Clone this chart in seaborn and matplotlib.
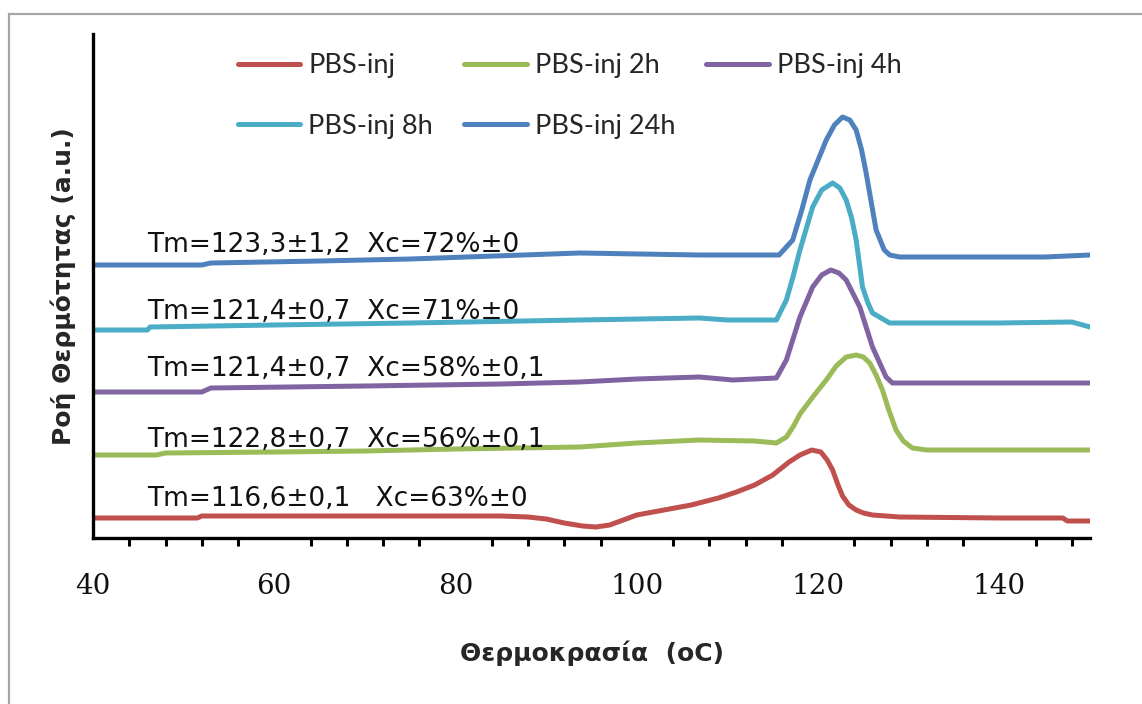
import numpy as np
import pandas as pd
import matplotlib
matplotlib.use("Agg")
import matplotlib.pyplot as plt
from matplotlib.patches import Rectangle
from matplotlib.ticker import MultipleLocator
import seaborn as sns

# ---------------- data ----------------
series_names = ["PBS-inj", "PBS-inj 2h", "PBS-inj 4h", "PBS-inj 8h", "PBS-inj 24h"]
series_colors = ["#C0504D", "#9BBB59", "#8064A2", "#4BACC6", "#4F81BD"]

t_inj = [40, 51.5, 52, 70, 85, 88, 90, 92, 94, 95.5, 97, 98.5, 100, 103, 106, 109, 111, 113,
         115, 116.8, 118, 119.3, 120.3, 121, 121.6, 122.2, 122.7, 123.4, 124.2, 125, 126,
         127.5, 129, 140, 147, 147.5, 150]
y_inj = [20, 20, 22, 22, 22, 21, 19, 15, 12, 11, 13, 18, 23, 28, 33, 40, 46, 53,
         63, 76, 83, 88, 86, 78, 68, 53, 42, 33, 28, 25, 23,
         22, 21, 20, 20, 17, 17]

t_2h = [40, 47, 48, 60, 70, 80, 93.7, 100, 106.9, 113, 115.4, 116.5, 117.3, 118, 119.5, 120.9,
        122, 123.1, 124.2, 125, 125.7, 126.4, 127.1, 127.8, 128.6, 129.4, 130.4, 132, 150]
y_2h = [83, 83, 85, 86, 87, 89, 91, 95, 98, 97, 95, 101, 112, 124, 142, 158,
        172, 181, 183, 181, 175, 163, 148, 128, 108, 97, 90, 88, 88]

t_4h = [40, 52, 53, 70, 85, 93.7, 100, 106.9, 110.6, 115.4, 116.5, 117.2, 118, 119.4, 120.4,
        121.4, 122.3, 123.1, 124.6, 126, 127.5, 128.2, 150]
y_4h = [146, 146, 150, 152, 154, 156, 159, 161, 158, 160, 178, 198, 221, 251, 263,
        268, 265, 258, 231, 191, 161, 155, 155]

t_8h = [40, 46, 46.3, 60, 75, 93.7, 106.9, 110, 115.4, 116.5, 117.2, 118, 119.4, 120.4, 121.6,
        122.4, 123.1, 123.7, 124.2, 124.9, 125.5, 126, 127.9, 140, 148, 150]
y_8h = [208, 208, 211, 213, 215, 218, 220, 218, 218, 238, 260, 288, 331, 348, 355,
        350, 338, 320, 298, 251, 235, 225, 215, 215, 216, 211]

t_24h = [40, 52, 53, 65, 75, 93.7, 106.9, 115.7, 117.2, 118.2, 119.1, 120.9, 121.8, 122.7,
         123.5, 124.2, 124.8, 125.3, 126.4, 127.3, 127.9, 129, 145, 147.5, 150]
y_24h = [273, 273, 275, 277, 279, 285, 283, 283, 298, 328, 358, 398, 413, 421,
         418, 408, 388, 365, 308, 288, 283, 281, 281, 282, 283]

annotations = ["Tm=116,6±0,1   Xc=63%±0",
               "Tm=122,8±0,7  Xc=56%±0,1",
               "Tm=121,4±0,7  Xc=58%±0,1",
               "Tm=121,4±0,7  Xc=71%±0",
               "Tm=123,3±1,2  Xc=72%±0"]
annotation_y = [39, 98, 169, 226, 293]

x_label = "Θερμοκρασία  (oC)"
y_label = "Ροή Θερμότητας (a.u.)"

# ---------------- build table ----------------
frames = []
for name, t, y in zip(series_names,
                      [t_inj, t_2h, t_4h, t_8h, t_24h],
                      [y_inj, y_2h, y_4h, y_8h, y_24h]):
    frames.append(pd.DataFrame({"T": t, "flow": y, "series": name}))
df = pd.concat(frames, ignore_index=True)

# ---------------- figure ----------------
sns.set_style("white")
plt.rcParams["font.family"] = ["DejaVu Sans"]

W, H = 1142, 704
fig = plt.figure(figsize=(W / 100, H / 100), dpi=100)
ax = fig.add_axes([93 / W, 1 - 538 / H, (1090 - 93) / W, (538 - 34) / H])

sns.lineplot(data=df, x="T", y="flow", hue="series", hue_order=series_names,
             palette=series_colors, sort=False, estimator=None, linewidth=3.6,
             legend=False, ax=ax)
for ln in ax.get_lines():
    ln.set_solid_capstyle("round")
    ln.set_solid_joinstyle("round")

ax.set_xlim(40, 150)
ax.set_ylim(0, 504)
ax.set_yticks([])
ax.xaxis.set_major_locator(MultipleLocator(20))
ax.xaxis.set_minor_locator(MultipleLocator(4))
ax.tick_params(axis="x", which="major", direction="out", length=8, width=2.2,
               color="black", pad=17, labelsize=20)
ax.tick_params(axis="x", which="minor", direction="out", length=6, width=2.2,
               color="black", bottom=True)
for lab in ax.get_xticklabels():
    lab.set_family("DejaVu Serif")
    lab.set_color("#111111")

for side in ["top", "right"]:
    ax.spines[side].set_visible(False)
for side in ["left", "bottom"]:
    ax.spines[side].set_color("black")
    ax.spines[side].set_linewidth(2.4)

ax.set_xlabel(x_label, fontsize=18, fontweight="bold", labelpad=29)
ax.set_ylabel(y_label, fontsize=18, fontweight="bold", labelpad=12)

for txt, yy in zip(annotations, annotation_y):
    ax.text(46.0, yy, txt, fontsize=19, va="center", ha="left", color="#111111")

# legend, row-major order
handles = ax.get_lines()[:5]
order = [0, 3, 1, 4, 2]
leg = fig.legend([handles[i] for i in order], [series_names[i] for i in order],
                 ncol=3, loc="upper left", bbox_to_anchor=(238 / W, 1 - 53 / H),
                 frameon=False, prop={"family": "Lato", "size": 19.5},
                 handlelength=2.3, handletextpad=0.3, columnspacing=1.15,
                 labelspacing=1.32, borderpad=0, borderaxespad=0)
for lh in leg.get_lines():
    lh.set_linewidth(3.6)

# outer grey frame of the original picture
fig.add_artist(Rectangle((8.5 / W, -0.1), 1.2, 1 - 13.5 / H + 0.1,
                         transform=fig.transFigure, fill=False,
                         edgecolor="#A6A6A6", linewidth=1.6))

fig.savefig("out.png", dpi=100)
